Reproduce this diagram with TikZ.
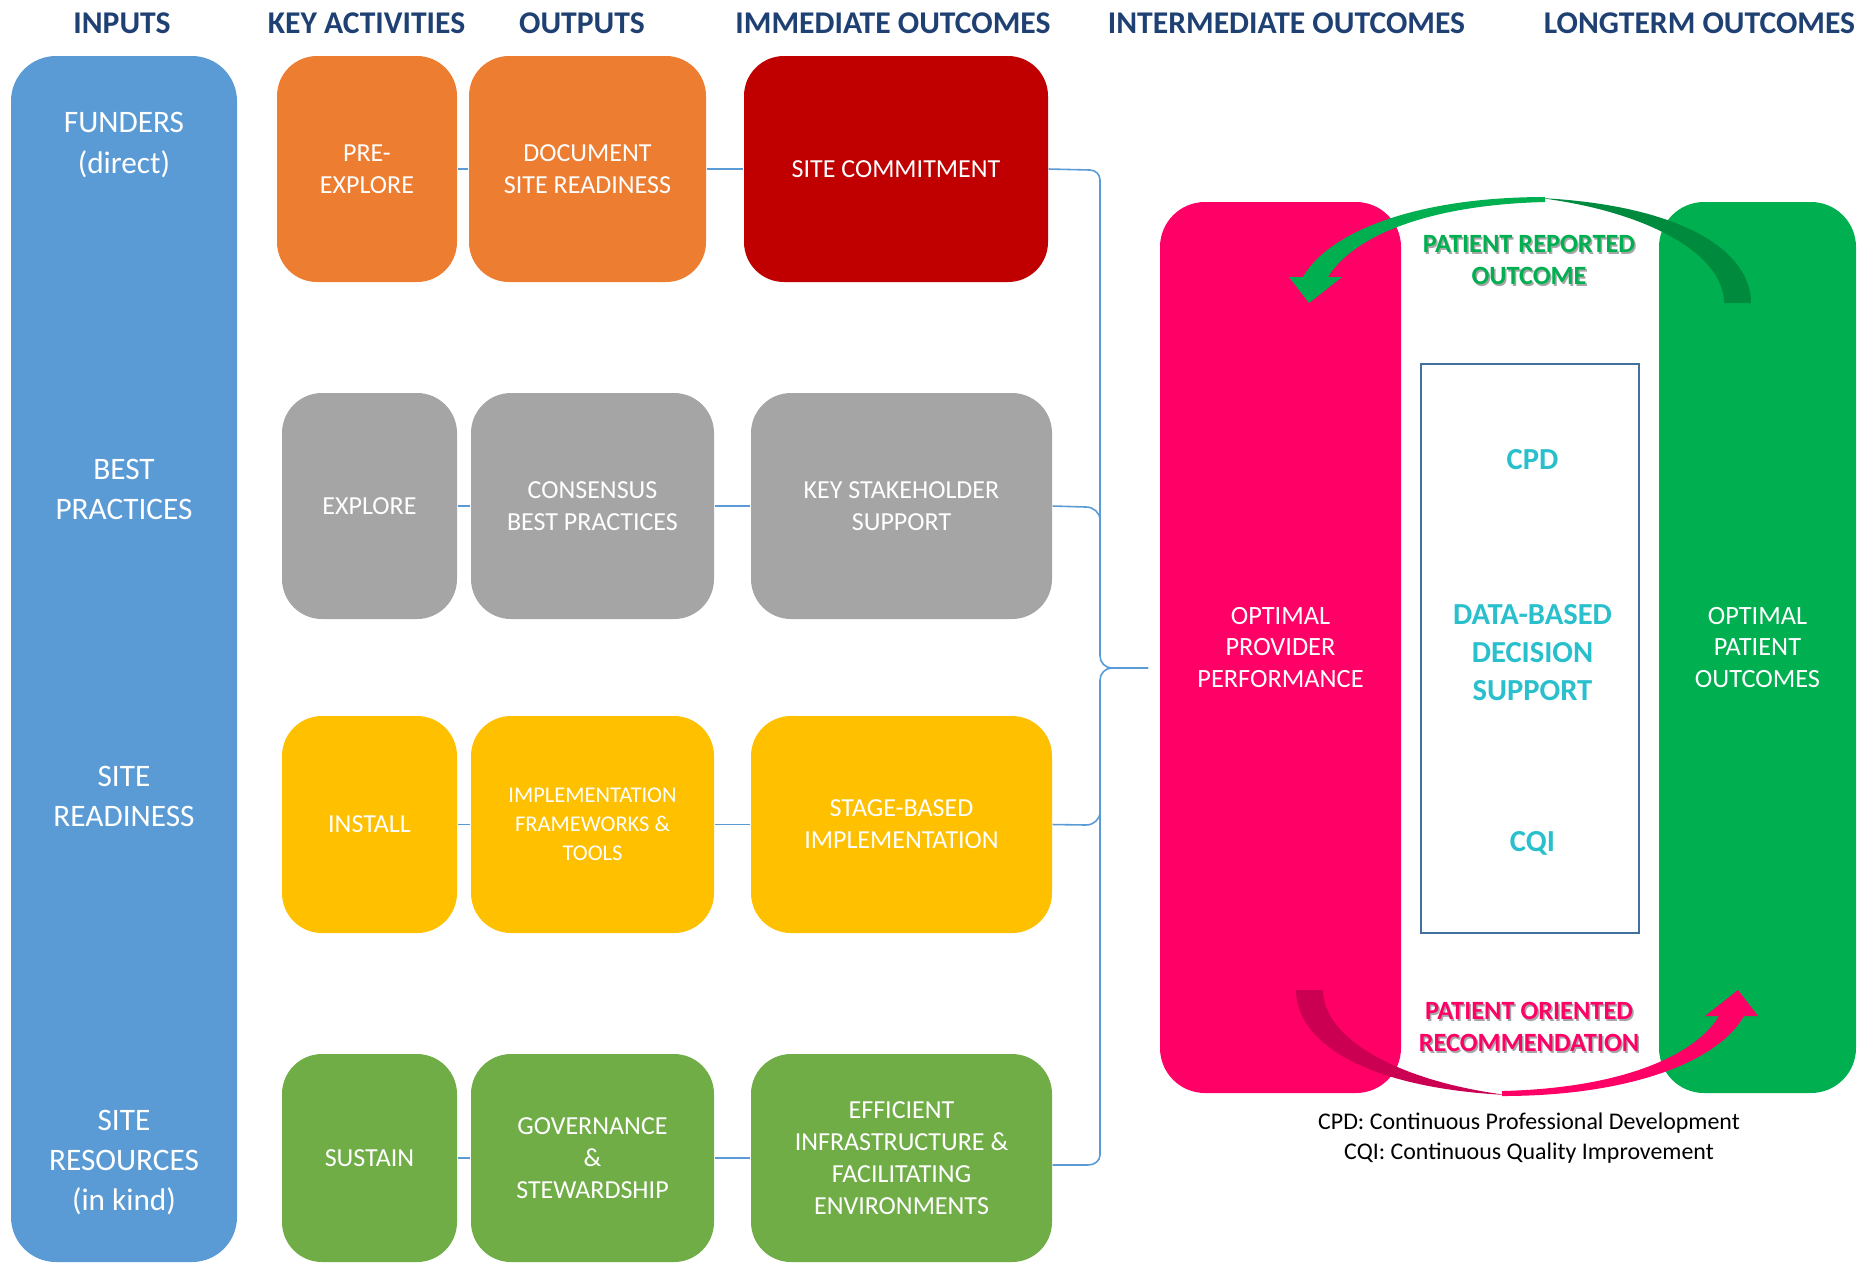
\documentclass[tikz,border=0pt]{standalone}
\usepackage{fontspec}
\setmainfont{Carlito}
\usepackage{xcolor}
\usetikzlibrary{positioning, arrows.meta, calc}

\definecolor{headblue}{HTML}{1F4072}
\definecolor{inblue}{HTML}{5B9BD5}
\definecolor{actorange}{HTML}{ED7D31}
\definecolor{outred}{HTML}{C00000}
\definecolor{rowgray}{HTML}{A5A5A5}
\definecolor{rowyellow}{HTML}{FFC000}
\definecolor{rowgreen}{HTML}{70AD47}
\definecolor{provpink}{HTML}{FF0066}
\definecolor{provpinkdark}{HTML}{CC0052}
\definecolor{patgreen}{HTML}{00B050}
\definecolor{patgreendark}{HTML}{008A3E}
\definecolor{dbteal}{HTML}{29BFCC}
\definecolor{frameblue}{HTML}{41719C}
\definecolor{linkblue}{HTML}{5B9BD5}

\begin{document}
\begin{tikzpicture}[
    every node/.style={inner sep=0pt, align=center},
    header/.style={text=headblue, font=\fontsize{9}{10.8}\selectfont\bfseries},
    inlabel/.style={text=white, font=\fontsize{8.9}{11.4}\selectfont},
    box/.style={rounded corners=0.4cm, text=white, font=\fontsize{7.4}{9.1}\selectfont},
    colA/.style={box, minimum width=1.75cm},
    colB/.style={box, minimum width=2.43cm},
    colC/.style={box, minimum width=3.01cm},
    link/.style={draw=linkblue, line width=0.45pt},
    prtext/.style={font=\fontsize{7.5}{9.1}\selectfont\bfseries},
    shade/.style={prtext, text=black!35},
    dbtext/.style={text=dbteal, font=\fontsize{8.7}{10.8}\selectfont\bfseries}
  ]

      \useasboundingbox (0,0) rectangle (18.73,-12.63);

      % Column headers
      \node[header] (hinputs) at (1.22,-0.23) {INPUTS};
      \node[header] (hact) at (3.665,-0.23) {KEY ACTIVITIES};
      \node[header] (hout) at (5.82,-0.23) {OUTPUTS};
      \node[header] (himm) at (8.93,-0.23) {IMMEDIATE OUTCOMES};
      \node[header] (hint) at (12.865,-0.23) {INTERMEDIATE OUTCOMES};
      \node[header] (hlong) at (16.995,-0.23) {LONGTERM OUTCOMES};

      % Inputs column
      \node[fill=inblue, rounded corners=0.45cm, minimum width=2.26cm, minimum height=12.06cm] (inputs) at (1.24,-6.59) {};
      \node[inlabel] (funders) at (1.24,-1.45) {FUNDERS\\(direct)};
      \node[inlabel] (bestprac) at (1.24,-4.895) {BEST\\PRACTICES};
      \node[inlabel] (sitereadi) at (1.24,-7.965) {SITE\\READINESS};
      \node[inlabel] (siteres) at (1.24,-11.625) {SITE\\RESOURCES\\(in kind)};

      % Row 1
      \node[box, fill=actorange, minimum width=1.80cm, minimum height=2.26cm] (preexp) at (3.67,-1.69) {PRE-\\EXPLORE};
      \node[box, fill=actorange, minimum width=2.37cm, minimum height=2.26cm] (docread) at (5.875,-1.69) {DOCUMENT\\SITE READINESS};
      \node[box, fill=outred, minimum width=3.04cm, minimum height=2.26cm] (commit) at (8.96,-1.69) {SITE COMMITMENT};

      % Row 2
      \node[colA, fill=rowgray, minimum height=2.26cm] (explore) at (3.695,-5.06) {EXPLORE};
      \node[colB, fill=rowgray, minimum height=2.26cm] (consensus) at (5.925,-5.06) {CONSENSUS\\BEST PRACTICES};
      \node[colC, fill=rowgray, minimum height=2.26cm] (stake) at (9.015,-5.06) {KEY STAKEHOLDER\\SUPPORT};

      % Row 3
      \node[colA, fill=rowyellow, minimum height=2.17cm] (install) at (3.695,-8.245) {INSTALL};
      \node[colB, fill=rowyellow, minimum height=2.17cm, font=\fontsize{6.4}{8.2}\selectfont] (implfw) at (5.925,-8.245) {IMPLEMENTATION\\FRAMEWORKS \&\\TOOLS};
      \node[colC, fill=rowyellow, minimum height=2.17cm] (stage) at (9.015,-8.245) {STAGE-BASED\\IMPLEMENTATION};

      % Row 4
      \node[colA, fill=rowgreen, minimum height=2.08cm] (sustain) at (3.695,-11.58) {SUSTAIN};
      \node[colB, fill=rowgreen, minimum height=2.08cm] (govern) at (5.925,-11.58) {GOVERNANCE\\\&\\STEWARDSHIP};
      \node[colC, fill=rowgreen, minimum height=2.08cm] (effic) at (9.015,-11.58) {EFFICIENT\\INFRASTRUCTURE \&\\FACILITATING\\ENVIRONMENTS};

      % Links along the rows
      \foreach \a/\b in {preexp/docread, docread/commit, explore/consensus, consensus/stake,
                         install/implfw, implfw/stage, sustain/govern, govern/effic}
        \draw[link] (\a) -- (\b);

      % Bracket to the intermediate outcome
      \coordinate (brace) at (11.48,-6.68);
      \draw[link] (commit.east) -- (10.90,-1.70) to[out=0,in=90] (11.00,-1.80)
        -- (11.00,-6.56) to[out=-90,in=180] (11.12,-6.68) -- (brace);
      \draw[link] (brace) -- (11.12,-6.68) to[out=180,in=90] (11.00,-6.80)
        -- (11.00,-11.55) to[out=-90,in=0] (10.88,-11.65) -- ([yshift=-0.07cm]effic.east);
      \draw[link] (stake.east) -- (10.86,-5.07) to[out=0,in=90] (11.00,-5.20);
      \draw[link] (stage.east) -- (10.86,-8.25) to[out=0,in=-90] (11.00,-8.12);

      % Intermediate and longterm outcomes
      \node[fill=provpink, rounded corners=0.45cm, minimum width=2.41cm, minimum height=8.91cm,
            text=white, font=\fontsize{7.5}{9.0}\selectfont] (provider) at (12.805,-6.475)
            {OPTIMAL\\PROVIDER\\PERFORMANCE};
      \node[fill=patgreen, rounded corners=0.45cm, minimum width=1.97cm, minimum height=8.91cm,
            text=white, font=\fontsize{7.5}{9.0}\selectfont] (patient) at (17.575,-6.475)
            {OPTIMAL\\PATIENT\\OUTCOMES};

      % Decision support frame
      \node[draw=frameblue, line width=0.7pt, minimum width=2.18cm, minimum height=5.69cm] (dbds) at (15.30,-6.485) {};
      \node[dbtext] (cpd) at (15.325,-4.60) {CPD};
      \node[dbtext] (dbdstext) at (15.325,-6.53) {DATA-BASED\\DECISION\\SUPPORT};
      \node[dbtext] (cqi) at (15.325,-8.43) {CQI};

      % Patient reported outcome arrow
      \fill[patgreendark] (17.51,-3.03) .. controls (17.51,-2.50) and (16.80,-2.05) .. (15.40,-1.98)
        .. controls (16.50,-2.12) and (17.24,-2.55) .. (17.24,-3.03) -- cycle;
      \fill[patgreen] (15.45,-1.97) .. controls (14.20,-1.97) and (13.30,-2.30) .. (13.03,-2.77)
        -- (12.89,-2.77) -- (13.09,-3.03) -- (13.42,-2.77) -- (13.28,-2.77)
        .. controls (13.50,-2.40) and (14.20,-2.05) .. (15.45,-2.02) -- cycle;

      % Patient oriented recommendation arrow
      \begin{scope}[rotate around={180:(15.235,-6.465)}]
        \fill[provpinkdark] (17.51,-3.03) .. controls (17.51,-2.50) and (16.80,-2.05) .. (15.40,-1.98)
          .. controls (16.50,-2.12) and (17.24,-2.55) .. (17.24,-3.03) -- cycle;
        \fill[provpink] (15.45,-1.97) .. controls (14.20,-1.97) and (13.30,-2.30) .. (13.03,-2.77)
          -- (12.89,-2.77) -- (13.09,-3.03) -- (13.42,-2.77) -- (13.28,-2.77)
          .. controls (13.50,-2.40) and (14.20,-2.05) .. (15.45,-2.02) -- cycle;
      \end{scope}

      \node[shade] at (15.305,-2.615) {PATIENT REPORTED\\OUTCOME};
      \node[prtext, text=patgreen] (prout) at (15.29,-2.60) {PATIENT REPORTED\\OUTCOME};
      \node[shade] at (15.305,-10.285) {PATIENT ORIENTED\\RECOMMENDATION};
      \node[prtext, text=provpink] (porec) at (15.29,-10.27) {PATIENT ORIENTED\\RECOMMENDATION};

      % Abbreviations
      \node[font=\fontsize{6.8}{8.5}\selectfont] (abbrev) at (15.29,-11.38)
        {CPD: Continuous Professional Development\\CQI: Continuous Quality Improvement};

    \end{tikzpicture}
\end{document}
